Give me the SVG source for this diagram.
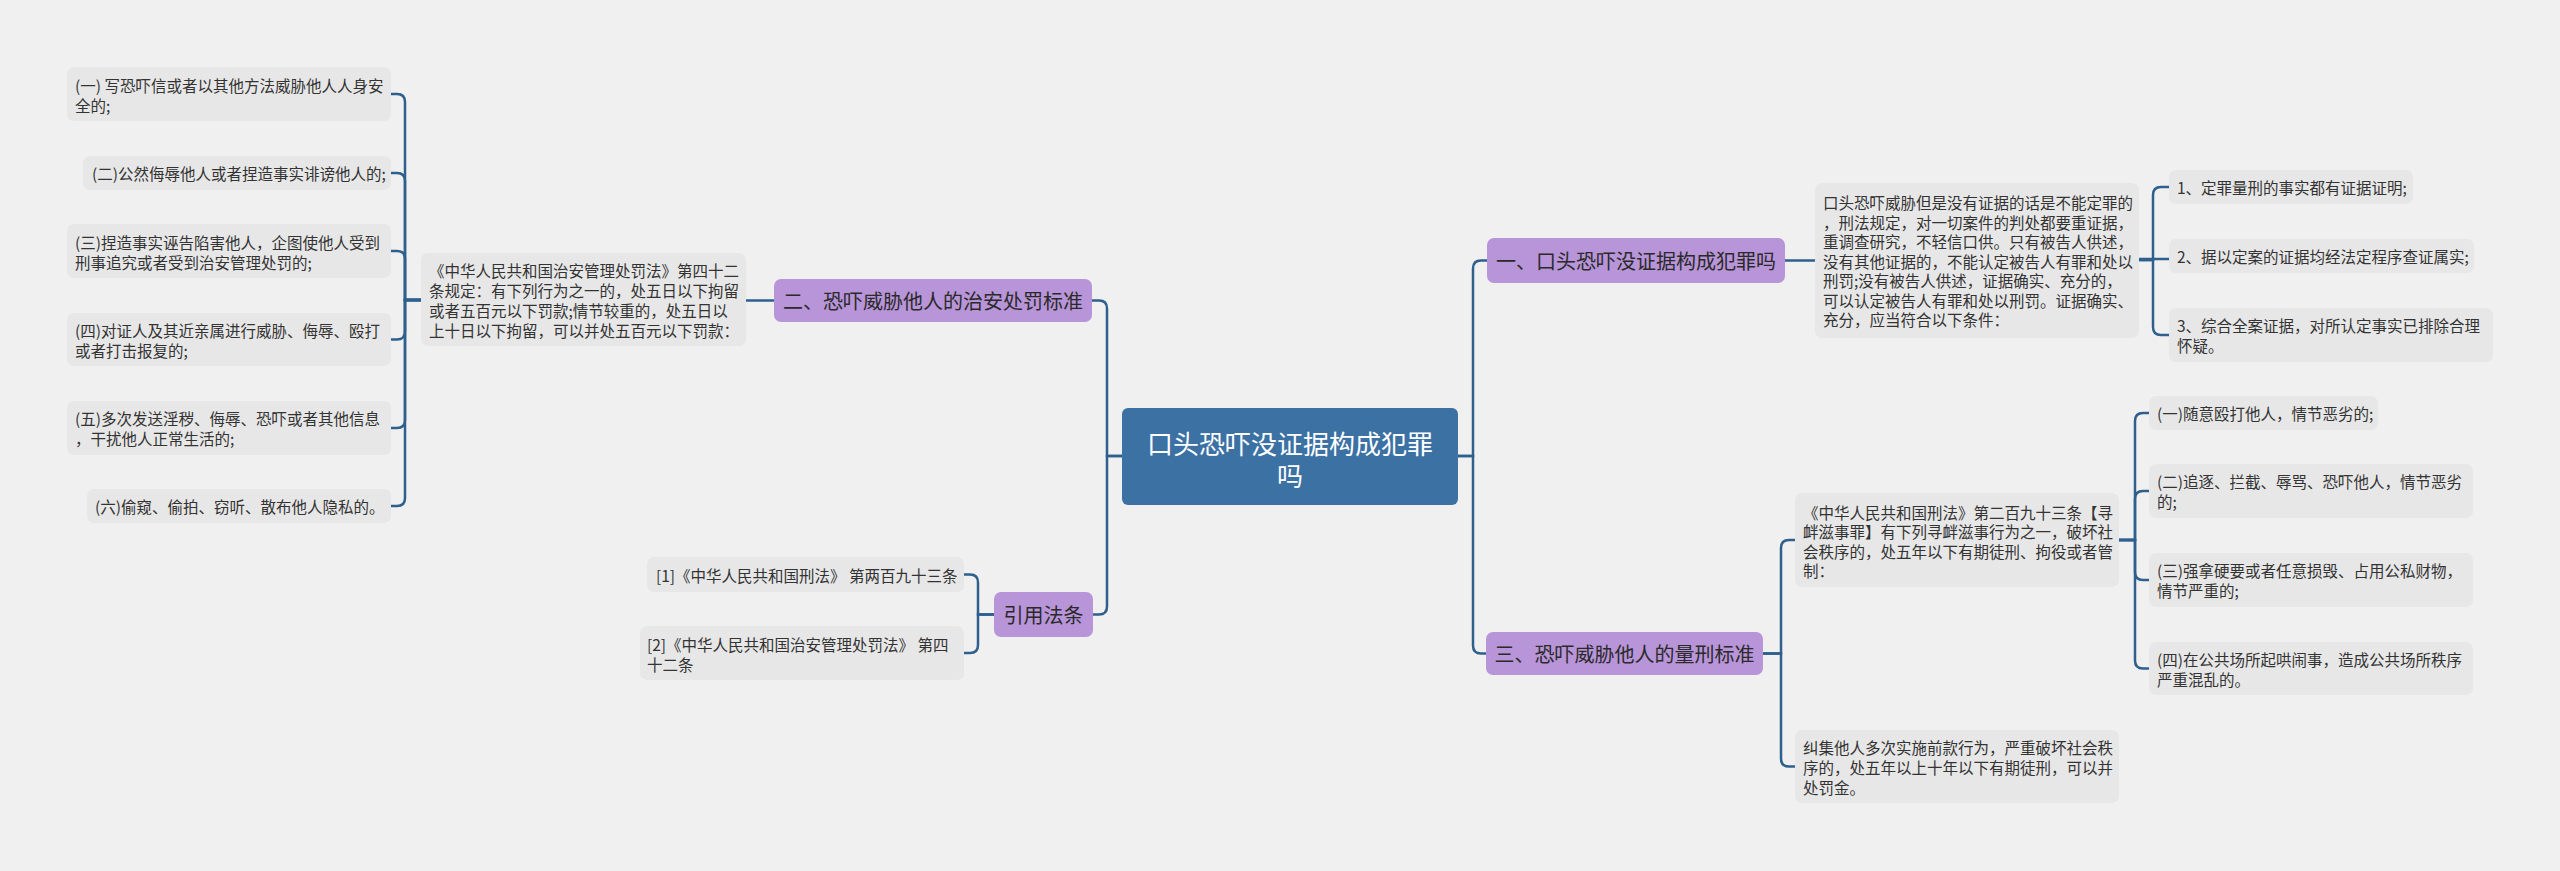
<svg xmlns="http://www.w3.org/2000/svg" width="2560" height="871" viewBox="0 0 2560 871">
<style>
text{font-family:"Noto Sans CJK SC","Noto Sans",sans-serif;dominant-baseline:central}
.leaf{fill:#e7e7e7}
.lt{font-size:15.5px;fill:#333}
.br{fill:#b894d8}
.bt{font-size:20px;fill:#2a2a2a;text-anchor:middle}
.ct{font-size:26px;fill:#fff;text-anchor:middle}
.cn{fill:none;stroke:#2e5f8d;stroke-width:2.5}
</style>
<rect x="0" y="0" width="2560" height="871" fill="#f0f0f0"/>
<g id="connectors">
<path class="cn" d="M1458,456 H1473 V268.5 Q1473,260.5 1481,260.5 H1487"/>
<path class="cn" d="M1458,456 H1473 V645.5 Q1473,653.5 1481,653.5 H1486"/>
<path class="cn" d="M1785,260.5 H1815"/>
<path class="cn" d="M2139,260 H2153 V195 Q2153,187 2161,187 H2169"/>
<path class="cn" d="M2139,259 H2169"/>
<path class="cn" d="M2139,260 H2153 V327 Q2153,335 2161,335 H2169"/>
<path class="cn" d="M1763,653.5 H1781 V548 Q1781,540 1789,540 H1795"/>
<path class="cn" d="M1763,653.5 H1781 V758.5 Q1781,766.5 1789,766.5 H1795"/>
<path class="cn" d="M2119,540 H2135 V421 Q2135,413 2143,413 H2149"/>
<path class="cn" d="M2119,540 H2135 V499 Q2135,491 2143,491 H2149"/>
<path class="cn" d="M2119,540 H2135 V572 Q2135,580 2143,580 H2149"/>
<path class="cn" d="M2119,540 H2135 V660.5 Q2135,668.5 2143,668.5 H2149"/>
<path class="cn" d="M1122,456 H1107 V308.5 Q1107,300.5 1099,300.5 H1092"/>
<path class="cn" d="M1122,456 H1107 V606.5 Q1107,614.5 1099,614.5 H1093"/>
<path class="cn" d="M774,300.5 H746"/>
<path class="cn" d="M421,300 H405 V102 Q405,94 397,94 H391"/>
<path class="cn" d="M421,300 H405 V181 Q405,173 397,173 H391"/>
<path class="cn" d="M421,300 H405 V259 Q405,251 397,251 H391"/>
<path class="cn" d="M421,300 H405 V331.5 Q405,339.5 397,339.5 H391"/>
<path class="cn" d="M421,300 H405 V420 Q405,428 397,428 H391"/>
<path class="cn" d="M421,300 H405 V498 Q405,506 397,506 H391"/>
<path class="cn" d="M994,614.5 H978 V582.5 Q978,574.5 970,574.5 H964"/>
<path class="cn" d="M994,614.5 H978 V645 Q978,653 970,653 H964"/>
</g>
<g id="center">
<rect x="1122" y="408" width="336" height="97" rx="6" fill="#3c71a4"/>
<text class="ct" x="1290" y="442">口头恐吓没证据构成犯罪</text>
<text class="ct" x="1290" y="474">吗</text>
</g>
<g id="b1"><rect class="br" x="1487" y="238" width="298" height="45" rx="7"/><text class="bt" x="1636" y="260.5">一、口头恐吓没证据构成犯罪吗</text></g>
<g id="b2"><rect class="br" x="774" y="279" width="318" height="43" rx="7"/><text class="bt" x="933" y="300.5">二、恐吓威胁他人的治安处罚标准</text></g>
<g id="b3"><rect class="br" x="1486" y="632" width="277" height="43" rx="7"/><text class="bt" x="1624.5" y="653.5">三、恐吓威胁他人的量刑标准</text></g>
<g id="b4"><rect class="br" x="994" y="592" width="99" height="45" rx="7"/><text class="bt" x="1043.5" y="614.5">引用法条</text></g>
<g id="d1"><rect class="leaf" x="1815" y="183" width="324" height="155" rx="7"/>
<text class="lt" x="1823" y="202">口头恐吓威胁但是没有证据的话是不能定罪的</text>
<text class="lt" x="1823" y="221.5">，刑法规定，对一切案件的判处都要重证据，</text>
<text class="lt" x="1823" y="241">重调查研究，不轻信口供。只有被告人供述，</text>
<text class="lt" x="1823" y="260.5">没有其他证据的，不能认定被告人有罪和处以</text>
<text class="lt" x="1823" y="280">刑罚;没有被告人供述，证据确实、充分的，</text>
<text class="lt" x="1823" y="299.5">可以认定被告人有罪和处以刑罚。证据确实、</text>
<text class="lt" x="1823" y="319">充分，应当符合以下条件：</text></g>
<g id="i1"><rect class="leaf" x="2169" y="170" width="244" height="34" rx="7"/><text class="lt" x="2177" y="187">1、定罪量刑的事实都有证据证明;</text></g>
<g id="i2"><rect class="leaf" x="2169" y="239" width="305" height="34" rx="7"/><text class="lt" x="2177" y="256">2、据以定案的证据均经法定程序查证属实;</text></g>
<g id="i3"><rect class="leaf" x="2169" y="308" width="324" height="54" rx="7"/><text class="lt" x="2177" y="325">3、综合全案证据，对所认定事实已排除合理</text><text class="lt" x="2177" y="345">怀疑。</text></g>
<g id="d3"><rect class="leaf" x="1795" y="493" width="324" height="94" rx="7"/>
<text class="lt" x="1803" y="511.5">《中华人民共和国刑法》第二百九十三条【寻</text>
<text class="lt" x="1803" y="531">衅滋事罪】有下列寻衅滋事行为之一，破坏社</text>
<text class="lt" x="1803" y="550.5">会秩序的，处五年以下有期徒刑、拘役或者管</text>
<text class="lt" x="1803" y="570">制：</text></g>
<g id="d4"><rect class="leaf" x="1795" y="730" width="324" height="73" rx="7"/>
<text class="lt" x="1803" y="746.5">纠集他人多次实施前款行为，严重破坏社会秩</text>
<text class="lt" x="1803" y="766.5">序的，处五年以上十年以下有期徒刑，可以并</text>
<text class="lt" x="1803" y="786.5">处罚金。</text></g>
<g id="j1"><rect class="leaf" x="2149" y="396" width="229" height="34" rx="7"/><text class="lt" x="2157" y="413">(一)随意殴打他人，情节恶劣的;</text></g>
<g id="j2"><rect class="leaf" x="2149" y="464" width="324" height="54" rx="7"/><text class="lt" x="2157" y="481">(二)追逐、拦截、辱骂、恐吓他人，情节恶劣</text><text class="lt" x="2157" y="501">的;</text></g>
<g id="j3"><rect class="leaf" x="2149" y="553" width="324" height="54" rx="7"/><text class="lt" x="2157" y="570">(三)强拿硬要或者任意损毁、占用公私财物，</text><text class="lt" x="2157" y="590">情节严重的;</text></g>
<g id="j4"><rect class="leaf" x="2149" y="642" width="324" height="53" rx="7"/><text class="lt" x="2157" y="658.5">(四)在公共场所起哄闹事，造成公共场所秩序</text><text class="lt" x="2157" y="678.5">严重混乱的。</text></g>
<g id="d2"><rect class="leaf" x="421" y="253" width="325" height="93" rx="7"/>
<text class="lt" x="429" y="270">《中华人民共和国治安管理处罚法》第四十二</text>
<text class="lt" x="429" y="290">条规定：有下列行为之一的，处五日以下拘留</text>
<text class="lt" x="429" y="310">或者五百元以下罚款;情节较重的，处五日以</text>
<text class="lt" x="429" y="330">上十日以下拘留，可以并处五百元以下罚款：</text></g>
<g id="l1"><rect class="leaf" x="67" y="67" width="324" height="54" rx="7"/><text class="lt" x="75" y="85">(一) 写恐吓信或者以其他方法威胁他人人身安</text><text class="lt" x="75" y="104.5">全的;</text></g>
<g id="l2"><rect class="leaf" x="83" y="156" width="308" height="34" rx="7"/><text class="lt" x="92" y="173">(二)公然侮辱他人或者捏造事实诽谤他人的;</text></g>
<g id="l3"><rect class="leaf" x="67" y="224" width="324" height="54" rx="7"/><text class="lt" x="75" y="241.5">(三)捏造事实诬告陷害他人，企图使他人受到</text><text class="lt" x="75" y="261.5">刑事追究或者受到治安管理处罚的;</text></g>
<g id="l4"><rect class="leaf" x="67" y="313" width="324" height="53" rx="7"/><text class="lt" x="75" y="330">(四)对证人及其近亲属进行威胁、侮辱、殴打</text><text class="lt" x="75" y="350">或者打击报复的;</text></g>
<g id="l5"><rect class="leaf" x="67" y="401" width="324" height="54" rx="7"/><text class="lt" x="75" y="418">(五)多次发送淫秽、侮辱、恐吓或者其他信息</text><text class="lt" x="75" y="438">，干扰他人正常生活的;</text></g>
<g id="l6"><rect class="leaf" x="87" y="489" width="304" height="34" rx="7"/><text class="lt" x="95" y="506">(六)偷窥、偷拍、窃听、散布他人隐私的。</text></g>
<g id="r1"><rect class="leaf" x="647" y="557" width="317" height="35" rx="7"/><text class="lt" x="656" y="574.5">[1]《中华人民共和国刑法》 第两百九十三条</text></g>
<g id="r2"><rect class="leaf" x="640" y="626" width="324" height="54" rx="7"/><text class="lt" x="647" y="643.5">[2]《中华人民共和国治安管理处罚法》 第四</text><text class="lt" x="647" y="663.5">十二条</text></g>
</svg>
